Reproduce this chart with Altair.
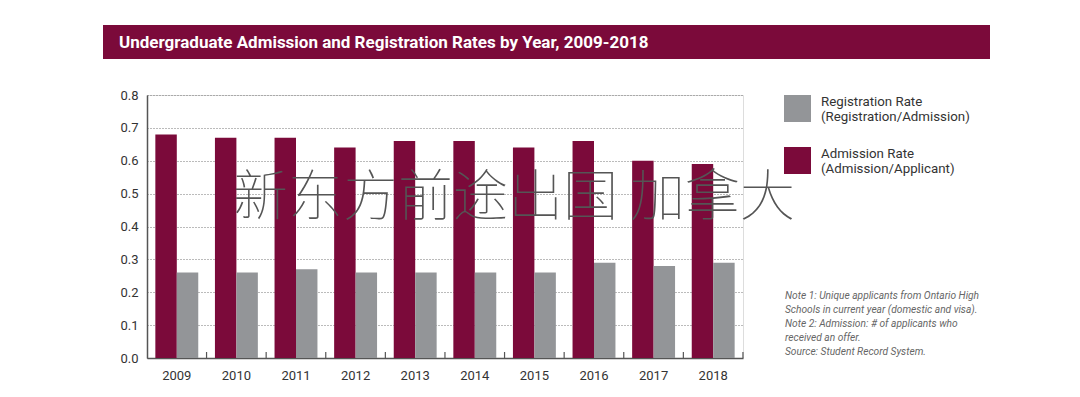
import altair as alt
import pandas as pd

years = ["2009", "2010", "2011", "2012", "2013", "2014", "2015", "2016", "2017", "2018"]
admission_rate = [0.68, 0.67, 0.67, 0.64, 0.66, 0.66, 0.64, 0.66, 0.60, 0.59]
registration_rate = [0.26, 0.26, 0.27, 0.26, 0.26, 0.26, 0.26, 0.29, 0.28, 0.29]
series = ["Admission Rate", "Registration Rate"]
legend_order = ["Registration Rate", "Admission Rate"]
colors = ["#939598", "#7b0a3a"]
y_ticks = [0.0, 0.1, 0.2, 0.3, 0.4, 0.5, 0.6, 0.7, 0.8]
title_text = "Undergraduate Admission and Registration Rates by Year, 2009-2018"
watermark = "新东方前途出国 加拿大"
notes = [
    "Note 1: Unique applicants from Ontario High",
    "Schools in current year (domestic and visa).",
    "Note 2: Admission: # of applicants who",
    "received an offer.",
    "Source: Student Record System.",
]

FONT = "Roboto, Liberation Sans, sans-serif"

rows = []
for i, y in enumerate(years):
    rows.append({"year": y, "series": series[0], "value": admission_rate[i]})
    rows.append({"year": y, "series": series[1], "value": registration_rate[i]})
df = pd.DataFrame(rows)

W, H = 596, 263

xscale = alt.Scale(domain=years, paddingInner=0.28, paddingOuter=0.14)

bars = alt.Chart(df).mark_bar().encode(
    x=alt.X("year:N", scale=xscale, sort=years,
            axis=alt.Axis(title=None, labelAngle=0, ticks=False, domainColor="#555555",
                          domainWidth=1.5, labelFontSize=13, labelColor="#333333",
                          labelPadding=11, labelFont=FONT, grid=False)),
    xOffset=alt.XOffset("series:N", sort=series, scale=alt.Scale(domain=series, paddingInner=0, paddingOuter=0)),
    y=alt.Y("value:Q", scale=alt.Scale(domain=[0, 0.8], nice=False),
            axis=alt.Axis(title=None, values=y_ticks, format=".1f", ticks=False,
                          domainColor="#555555", domainWidth=1.5, labelFontSize=13,
                          labelColor="#333333", labelPadding=9, labelFont=FONT,
                          grid=True, gridColor="#777777", gridDash=[1, 2], gridWidth=1)),
    color=alt.Color("series:N", scale=alt.Scale(domain=legend_order, range=colors),
                    legend=alt.Legend(
                        title=None, orient="none", legendX=637, legendY=0,
                        symbolType="square", symbolSize=729, symbolStrokeWidth=0,
                        symbolOpacity=1, labelFontSize=13.3, labelFont=FONT,
                        labelColor="#333333", labelOffset=10, rowPadding=22,
                        labelBaseline="bottom",
                        labelExpr="datum.label == 'Registration Rate' ? ['Registration Rate', '(Registration/Admission)'] : ['Admission Rate', '(Admission/Applicant)']",
                        labelLimit=300)),
)

tick_df = pd.DataFrame({"year": years})
ticks = alt.Chart(tick_df).mark_rule(color="#555555", strokeWidth=1.2, xOffset=8.3).encode(
    x=alt.X("year:N", scale=xscale, sort=years, bandPosition=1),
    y=alt.value(H),
    y2=alt.value(H - 6),
)

banner_df = pd.DataFrame({"t": [title_text]})
banner = alt.Chart(banner_df).mark_rect(color="#7b0a3a").encode(
    x=alt.value(-44), x2=alt.value(843), y=alt.value(-70), y2=alt.value(-36)
)
banner_text = alt.Chart(banner_df).mark_text(
    align="left", baseline="middle", color="white", fontSize=17, fontWeight="bold", font=FONT
).encode(x=alt.value(-28), y=alt.value(-52), text="t:N")

wm_df = pd.DataFrame({"t": [watermark]})
wm = alt.Chart(wm_df).mark_text(
    align="center", baseline="middle", fontSize=55, fontWeight=100,
    font="Noto Sans CJK SC", color="#555555"
).encode(x=alt.value(367), y=alt.value(103), text="t:N")

notes_df = pd.DataFrame({"t": ["\n".join(notes)]})
notes_text = alt.Chart(notes_df).mark_text(
    align="left", baseline="top", fontSize=10.2, fontStyle="italic", font=FONT,
    color="#666666", lineBreak="\n", lineHeight=14
).encode(x=alt.value(638), y=alt.value(196), text="t:N")

chart = alt.layer(banner, banner_text, bars, ticks, wm, notes_text).properties(
    width=W, height=H,
    autosize=alt.AutoSizeParams(type="none"),
    padding={"left": 139, "top": 87, "right": 329, "bottom": 31},
).configure_view(stroke=None).configure(background="white")

chart.save("out.html", embed_options={"renderer": "svg", "actions": False})
